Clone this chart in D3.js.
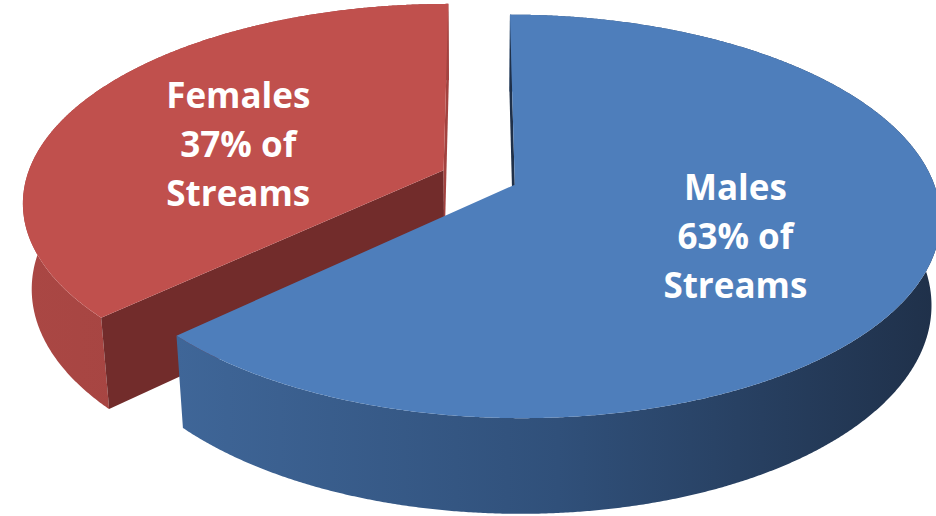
<!DOCTYPE html>
<html>
<head>
<meta charset="utf-8">
<script src="https://cdn.jsdelivr.net/npm/d3@7"></script>
<style>
  html, body { margin: 0; padding: 0; background: #ffffff; }
  svg { display: block; }
</style>
</head>
<body>
<svg id="chart" width="936" height="516"></svg>
<script>
// ---- data ----
const categories = ["Males", "Females"];
const shares = [63, 37];
const labelLines = [
  ["Males", "63% of", "Streams"],
  ["Females", "37% of", "Streams"]
];

// ---- styling ----
const topFill = ["#4E7EBB", "#C0504D"];
const wallStops = [
  ["#3F6698", "#30507A", "#1F3049"],
  ["#AA4744", "#9C3F3C"]
];
const cutFill = [
  ["#1F3049", "#1F3049"],
  ["#722C2B", "#A2423F"]
];
// fine adjustment of each label block (pixels)
const labelNudge = [[0, 11], [-4, 18]];

// ---- 3D view (unit-radius pie, perspective camera) ----
const W = 936, H = 516;
const view = { cx: 479, cy: 177.5, focal: 2365, dist: 5.67, tilt: 27.8 * Math.PI / 180 };
const thickness = 0.235;
const explode = 0.093;
const sinT = Math.sin(view.tilt), cosT = Math.cos(view.tilt);
const camera = [0, view.dist * sinT, view.dist * cosT];

// x: right, y: up, z: toward the viewer
function project(x, y, z) {
  const yc = z * sinT - y * cosT;
  const d = view.dist - (z * cosT + y * sinT);
  return [view.cx + view.focal * x / d, view.cy + view.focal * yc / d];
}

const svg = d3.select("#chart");
const defs = svg.append("defs");

const pie = d3.pie().sort(null).value(d => d.value).startAngle(0).endAngle(2 * Math.PI);
const slices = pie(categories.map((c, i) => ({ name: c, value: shares[i], index: i })))
  .map(s => {
    const mid = (s.startAngle + s.endAngle) / 2;
    return Object.assign(s, {
      mid,
      ex: explode * Math.sin(mid),
      ez: -explode * Math.cos(mid)
    });
  });

function world(sl, theta, r, y) {
  return [sl.ex + r * Math.sin(theta), y, sl.ez - r * Math.cos(theta)];
}
function pt(sl, theta, r, y) {
  return project(...world(sl, theta, r, y));
}
function arcPoints(sl, y) {
  const a0 = sl.startAngle, a1 = sl.endAngle;
  const n = Math.max(8, Math.ceil((a1 - a0) / 0.005));
  return d3.range(n + 1).map(i => pt(sl, a0 + (a1 - a0) * i / n, 1, y));
}

const line = d3.line().curve(d3.curveLinearClosed);

// farther slices first
const order = slices.slice().sort((a, b) => a.ez - b.ez);

order.forEach(sl => {
  const i = sl.data.index;
  const g = svg.append("g").attr("class", "slice slice-" + i);

  // outer wall
  const topArc = arcPoints(sl, 0);
  const botArc = arcPoints(sl, -thickness);
  const wallPoly = topArc.concat(botArc.slice().reverse());
  const xs = d3.extent(wallPoly, p => p[0]);
  const gid = "wall-" + i;
  const grad = defs.append("linearGradient")
    .attr("id", gid)
    .attr("gradientUnits", "userSpaceOnUse")
    .attr("x1", xs[0]).attr("x2", xs[1]).attr("y1", 0).attr("y2", 0);
  const stops = wallStops[i];
  stops.forEach((c, k) => grad.append("stop")
    .attr("offset", k / (stops.length - 1)).attr("stop-color", c));
  g.append("path").attr("d", line(wallPoly)).attr("fill", `url(#${gid})`);

  // radial cut faces, only those turned toward the camera
  [[sl.startAngle, -1], [sl.endAngle, 1]].forEach(([theta, sgn], k) => {
    const n = [sgn * Math.cos(theta), 0, sgn * Math.sin(theta)];
    const p = [sl.ex, -thickness / 2, sl.ez];
    const v = [camera[0] - p[0], camera[1] - p[1], camera[2] - p[2]];
    if (n[0] * v[0] + n[1] * v[1] + n[2] * v[2] <= 0) return;
    const quad = [
      pt(sl, theta, 0, 0), pt(sl, theta, 1, 0),
      pt(sl, theta, 1, -thickness), pt(sl, theta, 0, -thickness)
    ];
    g.append("path").attr("d", line(quad)).attr("fill", cutFill[i][k]);
  });

  // top face
  const topPoly = [pt(sl, sl.startAngle, 0, 0)].concat(topArc);
  g.append("path").attr("d", line(topPoly)).attr("fill", topFill[i]);
});

// data labels
const labelR = 0.55, lineGap = 49;
slices.forEach(sl => {
  const i = sl.data.index;
  const [px, py] = pt(sl, sl.mid, labelR, 0);
  const lx = px + labelNudge[i][0], ly = py + labelNudge[i][1];
  const lines = labelLines[i];
  const t = svg.append("text")
    .attr("x", lx)
    .attr("y", ly - lineGap * (lines.length - 1) / 2)
    .attr("text-anchor", "middle")
    .attr("dominant-baseline", "middle")
    .attr("fill", "#ffffff")
    .style("font-family", "'Open Sans', 'Noto Sans', sans-serif")
    .style("font-weight", 700)
    .style("font-size", "35px");
  lines.forEach((s, k) => t.append("tspan")
    .attr("x", lx).attr("dy", k === 0 ? 0 : lineGap).text(s));
});
</script>
</body>
</html>
